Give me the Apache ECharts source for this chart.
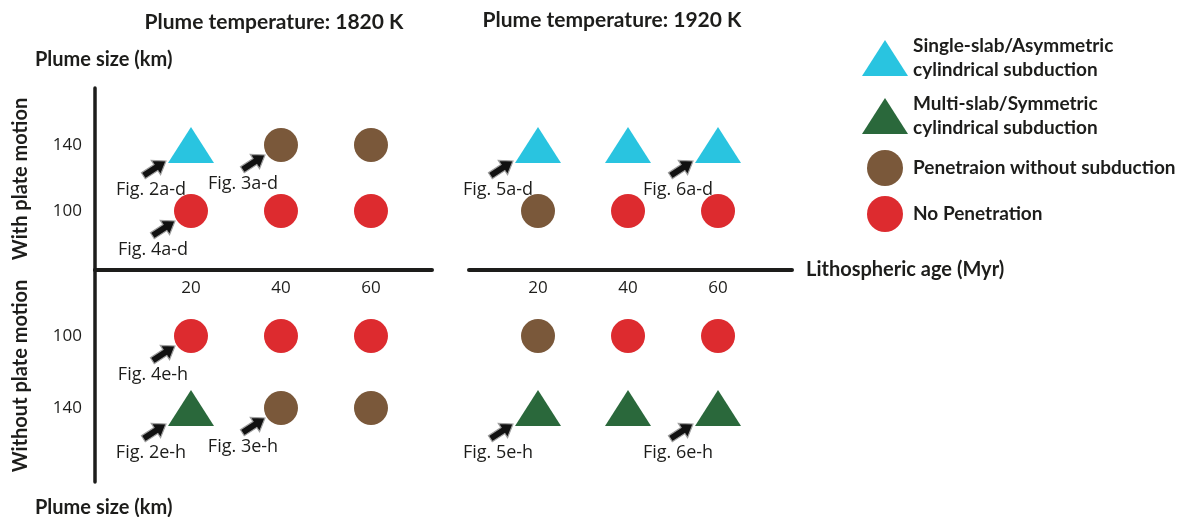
<!DOCTYPE html>
<html>
<head>
<meta charset="utf-8">
<script src="https://cdn.jsdelivr.net/npm/echarts@6/dist/echarts.min.js"></script>
<style>
  html, body { margin: 0; padding: 0; background: #ffffff; }
  #chart { width: 1186px; height: 517px; }
</style>
</head>
<body>
<div id="chart"></div>
<script>
// Lithospheric ages tested (Myr) and plume sizes (km)
const ages = [20, 40, 60];
const plumeSizes = [140, 100];

// Outcome of each run: rows follow plumeSizes, columns follow ages
const runs1820WithPlate = [['single', 'pen', 'pen'], ['none', 'none', 'none']];
const runs1920WithPlate = [['single', 'single', 'single'], ['pen', 'none', 'none']];
const runs1820NoPlate   = [['multi', 'pen', 'pen'], ['none', 'none', 'none']];
const runs1920NoPlate   = [['multi', 'multi', 'multi'], ['pen', 'none', 'none']];

// Runs shown in detail elsewhere: [age, plume size, figure]
const figs1820WithPlate = [[20, 140, 'Fig. 2a-d'], [40, 140, 'Fig. 3a-d'], [20, 100, 'Fig. 4a-d']];
const figs1920WithPlate = [[20, 140, 'Fig. 5a-d'], [60, 140, 'Fig. 6a-d']];
const figs1820NoPlate   = [[20, 100, 'Fig. 4e-h'], [20, 140, 'Fig. 2e-h'], [40, 140, 'Fig. 3e-h']];
const figs1920NoPlate   = [[20, 140, 'Fig. 5e-h'], [60, 140, 'Fig. 6e-h']];

const outcomeOrder = ['single', 'multi', 'pen', 'none'];
const outcomeNames = {
  single: 'Single-slab/Asymmetric\ncylindrical subduction',
  multi: 'Multi-slab/Symmetric\ncylindrical subduction',
  pen: 'Penetraion without subduction',
  none: 'No Penetration'
};

const FONT = 'Lato';
const FONT_REG = 'Open Sans';
const INK = '#1d1d1b';

const outcomeStyle = {
  single: { color: '#29c4e0', symbol: 'triangle', size: [46, 36] },
  multi:  { color: '#2a683b', symbol: 'triangle', size: [46, 36] },
  pen:    { color: '#7a583a', symbol: 'circle', size: 34 },
  none:   { color: '#dd2b2f', symbol: 'circle', size: 34 }
};

// Four blocks: 1820 K / 1920 K, with / without plate motion
const panels = [
  { runs: runs1820WithPlate, figs: figs1820WithPlate,
    grid: { left: 95, top: 88, width: 337, height: 182 },
    x: [-1.333, 73.56], y: [64.24, 174.55], inverse: false, side: 'left' },
  { runs: runs1820NoPlate, figs: figs1820NoPlate,
    grid: { left: 95, top: 270, width: 337, height: 212 },
    x: [-1.333, 73.56], y: [63.33, 181.1], inverse: true, side: 'left', ageAxis: true },
  { runs: runs1920WithPlate, figs: figs1920WithPlate,
    grid: { left: 469, top: 88, width: 323, height: 182 },
    x: [4.667, 76.44], y: [64.24, 174.55], inverse: false, side: 'right' },
  { runs: runs1920NoPlate, figs: figs1920NoPlate,
    grid: { left: 469, top: 270, width: 323, height: 212 },
    x: [4.667, 76.44], y: [63.33, 181.1], inverse: true, side: 'right', ageAxis: true }
];

function outcomeAt(runs, age, size) {
  return runs[plumeSizes.indexOf(size)][ages.indexOf(age)];
}

const grids = [], xAxes = [], yAxes = [], series = [];

panels.forEach((pn, i) => {
  grids.push(Object.assign({ containLabel: false, outerBoundsMode: 'none' }, pn.grid));

  const xAx = {
    type: 'value', gridIndex: i, min: pn.x[0], max: pn.x[1],
    splitLine: { show: false }, axisTick: { show: false },
    axisLine: { show: false }, axisLabel: { show: false }
  };
  if (pn.ageAxis) {
    xAx.position = 'top';
    xAx.axisLine = { show: true, onZero: false, lineStyle: { color: INK, width: 4 } };
    xAx.axisLabel = {
      show: true, inside: true, margin: 10, customValues: ages,
      fontFamily: FONT_REG, fontSize: 17, color: INK
    };
    if (pn.side === 'right') {
      xAx.name = 'Lithospheric age (Myr)';
      xAx.nameLocation = 'end';
      xAx.nameGap = 14;
      xAx.nameTextStyle = { fontFamily: FONT, fontWeight: 'bold', fontSize: 20, color: INK };
    }
  }
  xAxes.push(xAx);

  const yAx = {
    type: 'value', gridIndex: i, min: pn.y[0], max: pn.y[1], inverse: pn.inverse,
    splitLine: { show: false }, axisTick: { show: false },
    axisLine: { show: false }, axisLabel: { show: false }
  };
  if (pn.side === 'left') {
    yAx.axisLine = { show: true, onZero: false, lineStyle: { color: INK, width: 3.5 } };
    yAx.axisLabel = {
      show: true, margin: 13, customValues: plumeSizes,
      fontFamily: FONT_REG, fontSize: 17, color: INK
    };
    yAx.name = pn.inverse ? 'Without plate motion' : 'With plate motion';
    yAx.nameLocation = 'middle';
    yAx.nameRotate = 90;
    yAx.nameGap = 64;
    yAx.nameTextStyle = { fontFamily: FONT, fontWeight: 'bold', fontSize: 20, color: INK };
  }
  yAxes.push(yAx);

  // one scatter series per outcome class in this block
  outcomeOrder.forEach(key => {
    const pts = [];
    plumeSizes.forEach(size => ages.forEach(age => {
      if (outcomeAt(pn.runs, age, size) === key) pts.push([age, size]);
    }));
    if (!pts.length) return;
    const st = outcomeStyle[key];
    series.push({
      type: 'scatter', name: outcomeNames[key],
      xAxisIndex: i, yAxisIndex: i,
      symbol: st.symbol, symbolSize: st.size,
      itemStyle: { color: st.color, opacity: 1 },
      data: pts, z: 3
    });
  });

  // arrows pointing at runs detailed in other figures
  const figs = pn.figs;
  series.push({
    type: 'custom', name: 'figure references',
    xAxisIndex: i, yAxisIndex: i, z: 4, silent: true,
    data: figs.map(f => [f[0], f[1]]),
    renderItem: function (params, api) {
      const f = figs[params.dataIndex];
      const p = api.coord([api.value(0), api.value(1)]);
      const tri = outcomeStyle[outcomeAt(pn.runs, f[0], f[1])].symbol === 'triangle';
      const tip = [p[0] + (tri ? -25 : -16), p[1] + (tri ? 16 : 10)];
      const ang = 33 * Math.PI / 180, len = 27;
      const ux = Math.cos(ang), uy = -Math.sin(ang);
      const nx = -uy, ny = ux;
      const shaftW = 3.5, headW = 8.5, headL = 12;
      const pt = (a, b) => [tip[0] - ux * a + nx * b, tip[1] - uy * a + ny * b];
      const pts = [pt(0, 0), pt(headL, headW), pt(headL, shaftW), pt(len, shaftW),
                   pt(len, -shaftW), pt(headL, -shaftW), pt(headL, -headW)];
      const lc = [p[0] + (tri ? -40 : -38), p[1] + (tri ? 45 : 39)];
      return {
        type: 'group',
        children: [
          { type: 'polygon', shape: { points: pts },
            style: { fill: '#111111', stroke: '#a0a0a0', lineWidth: 1.2 } },
          { type: 'text', x: lc[0], y: lc[1],
            style: { text: f[2], fill: INK, font: '18px "' + FONT_REG + '"',
                     textAlign: 'center', textVerticalAlign: 'middle' } }
        ]
      };
    }
  });
});

const chart = echarts.init(document.getElementById('chart'), null, { renderer: 'canvas' });
chart.setOption({
  animation: false,
  backgroundColor: '#ffffff',
  textStyle: { fontFamily: FONT },
  grid: grids,
  xAxis: xAxes,
  yAxis: yAxes,
  legend: {
    orient: 'vertical', left: 857, top: 29,
    itemWidth: 46, itemHeight: 36, itemGap: 10,
    selectedMode: false,
    data: outcomeOrder.map(k => outcomeNames[k]),
    textStyle: { fontFamily: FONT, fontWeight: 'bold', fontSize: 19, color: INK, lineHeight: 24 }
  },
  graphic: [
    { type: 'text', x: 274, y: 22, style: { text: 'Plume temperature: 1820 K', fill: INK,
      font: 'bold 21px ' + FONT, textAlign: 'center', textVerticalAlign: 'middle' } },
    { type: 'text', x: 612, y: 20, style: { text: 'Plume temperature: 1920 K', fill: INK,
      font: 'bold 21px ' + FONT, textAlign: 'center', textVerticalAlign: 'middle' } },
    { type: 'text', x: 35, y: 60, style: { text: 'Plume size (km)', fill: INK,
      font: 'bold 20px ' + FONT, textAlign: 'left', textVerticalAlign: 'middle' } },
    { type: 'text', x: 35, y: 508, style: { text: 'Plume size (km)', fill: INK,
      font: 'bold 20px ' + FONT, textAlign: 'left', textVerticalAlign: 'middle' } }
  ],
  series: series
});
</script>
</body>
</html>
